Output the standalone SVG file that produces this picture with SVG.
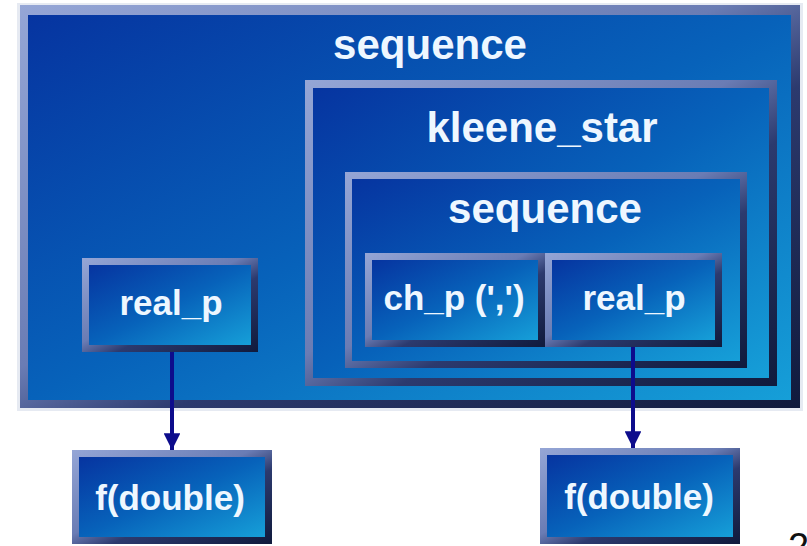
<svg xmlns="http://www.w3.org/2000/svg" width="807" height="546" viewBox="0 0 807 546">
  <defs>
    <!-- bevel frame: light edge top-left, dark edge bottom-right -->
    <linearGradient id="frameGrad" x1="0" y1="0" x2="1" y2="1">
      <stop offset="0" stop-color="#95a6d6"/>
      <stop offset="0.45" stop-color="#6a7cb4"/>
      <stop offset="0.6" stop-color="#2c3a6e"/>
      <stop offset="1" stop-color="#101a3c"/>
    </linearGradient>
    <!-- panel face: deep blue to cyan -->
    <linearGradient id="faceGrad" x1="0" y1="0" x2="1" y2="1">
      <stop offset="0" stop-color="#0634a0"/>
      <stop offset="0.5" stop-color="#0762ba"/>
      <stop offset="1" stop-color="#169fd8"/>
    </linearGradient>
    <marker id="arrowHead" viewBox="0 0 10 10" refX="10" refY="5" markerWidth="4.2" markerHeight="4.2" markerUnits="strokeWidth" orient="auto">
      <path d="M0,0 L10,5 L0,10 z" fill="#0d0c8c"/>
    </marker>
  </defs>
  <style>
    .frame { fill: url(#frameGrad); }
    .face { fill: url(#faceGrad); }
    .title { font-family: "Liberation Sans", Arial, sans-serif; font-weight: bold; font-size: 42px; fill: #eef7ff; text-anchor: middle; }
    .label { font-family: "Liberation Sans", Arial, sans-serif; font-weight: bold; font-size: 35px; fill: #eef7ff; text-anchor: middle; }
    .link { stroke: #0d0c8c; stroke-width: 4; fill: none; marker-end: url(#arrowHead); }
    .pagenum { font-family: "Liberation Sans", Arial, sans-serif; font-size: 38px; fill: #111; }
  </style>

  <rect width="807" height="546" fill="#ffffff"/>

  <!-- outer sequence -->
  <g id="seq-outer">
    <rect x="17" y="3" width="786" height="408" fill="#e6eaf2"/>
    <rect class="frame" x="20" y="5" width="780" height="403"/>
    <rect class="face" x="28" y="15" width="763" height="385"/>
    <text class="title" x="430" y="59">sequence</text>
  </g>

  <!-- kleene_star -->
  <g id="kleene-star">
    <rect class="frame" x="305" y="80" width="472" height="306"/>
    <rect class="face" x="313" y="88" width="456" height="290"/>
    <text class="title" x="542" y="142">kleene_star</text>
  </g>

  <!-- inner sequence -->
  <g id="seq-inner">
    <rect class="frame" x="345" y="172" width="402" height="196"/>
    <rect class="face" x="352" y="179" width="388" height="182"/>
    <text class="title" x="545" y="223">sequence</text>
  </g>

  <!-- ch_p (',') -->
  <g id="ch-p">
    <rect class="frame" x="365" y="253" width="180" height="94"/>
    <rect class="face" x="372" y="260" width="166" height="80"/>
    <text class="label" x="454" y="310">ch_p (',')</text>
  </g>

  <!-- real_p inside the inner sequence -->
  <g id="real-p-inner">
    <rect class="frame" x="545" y="253" width="177" height="94"/>
    <rect class="face" x="552" y="260" width="163" height="80"/>
    <text class="label" x="634" y="310">real_p</text>
  </g>

  <!-- real_p on the left -->
  <g id="real-p-left">
    <rect class="frame" x="82" y="258" width="176" height="94"/>
    <rect class="face" x="89" y="265" width="162" height="80"/>
    <text class="label" x="171" y="315">real_p</text>
  </g>

  <!-- semantic actions -->
  <g id="action-left">
    <rect class="frame" x="72" y="450" width="200" height="94"/>
    <rect class="face" x="79" y="457" width="186" height="80"/>
    <text class="label" x="170" y="510">f(double)</text>
  </g>

  <g id="action-right">
    <rect class="frame" x="540" y="448" width="200" height="96"/>
    <rect class="face" x="547" y="455" width="186" height="82"/>
    <text class="label" x="639" y="509">f(double)</text>
  </g>

  <!-- connectors -->
  <g id="connectors">
    <line class="link" x1="172" y1="352" x2="172" y2="450"/>
    <line class="link" x1="633" y1="347" x2="633" y2="448"/>
  </g>

  <text class="pagenum" x="788" y="560">2</text>
</svg>
